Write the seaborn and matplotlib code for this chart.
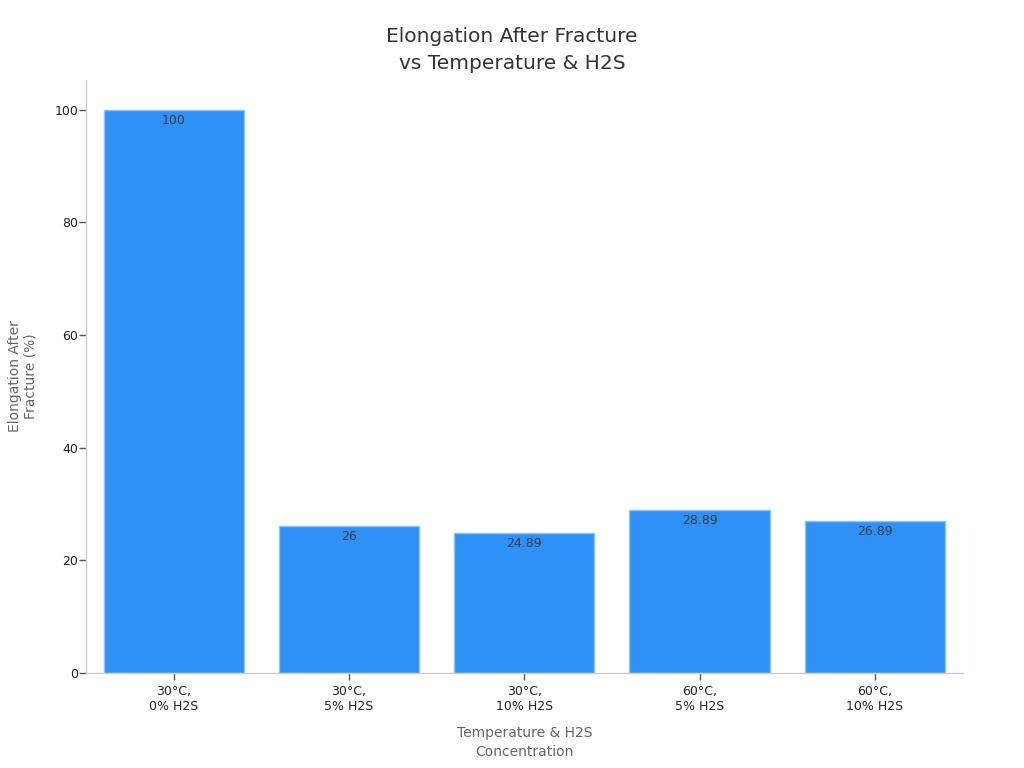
import matplotlib
matplotlib.use("Agg")
import matplotlib.pyplot as plt
import seaborn as sns
import pandas as pd

categories = ["30°C,\n0% H2S", "30°C,\n5% H2S", "30°C,\n10% H2S", "60°C,\n5% H2S", "60°C,\n10% H2S"]
elongation = [100, 26, 24.89, 28.89, 26.89]
value_labels = ["100", "26", "24.89", "28.89", "26.89"]

bar_color = "#2E91F8"
edge_color = "#8CC4FA"

sns.set_theme(style="white")
plt.rcParams['font.family'] = ['DejaVu Sans']

df = pd.DataFrame({"cond": categories, "elong": elongation})

fig = plt.figure(figsize=(10.24, 7.68), dpi=100)
ax = fig.add_axes([0.084, 0.124, 0.856, 0.772])

sns.barplot(data=df, x="cond", y="elong", color=bar_color, saturation=1,
            width=0.8, edgecolor=edge_color, linewidth=1, ax=ax)

for i, (v, lab) in enumerate(zip(elongation, value_labels)):
    ax.text(i, v - 0.7, lab, ha="center", va="top", fontsize=9, color="#3a3a3a")

ax.set_xlim(-0.5, 4.5)
ax.set_ylim(0, 105.3)
ax.set_yticks([0, 20, 40, 60, 80, 100])

fig.suptitle("Elongation After Fracture\nvs Temperature & H2S", x=0.5, y=0.965,
             fontsize=14.5, color="#333333", linespacing=1.55, va="top")
ax.set_xlabel("Temperature & H2S\nConcentration", fontsize=10, color="#666666",
              labelpad=10, linespacing=1.4)
ax.set_ylabel("Elongation After\nFracture (%)", fontsize=10, color="#666666", labelpad=12)

for s in ["top", "right"]:
    ax.spines[s].set_visible(False)
for s in ["left", "bottom"]:
    ax.spines[s].set_color("#cccccc")
    ax.spines[s].set_linewidth(1)

ax.tick_params(axis="both", which="both", length=5, width=1, color="#555555",
               labelsize=9, labelcolor="#222222", bottom=True, left=True)
ax.tick_params(axis="y", pad=0.5)

fig.savefig("out.png", dpi=100)
